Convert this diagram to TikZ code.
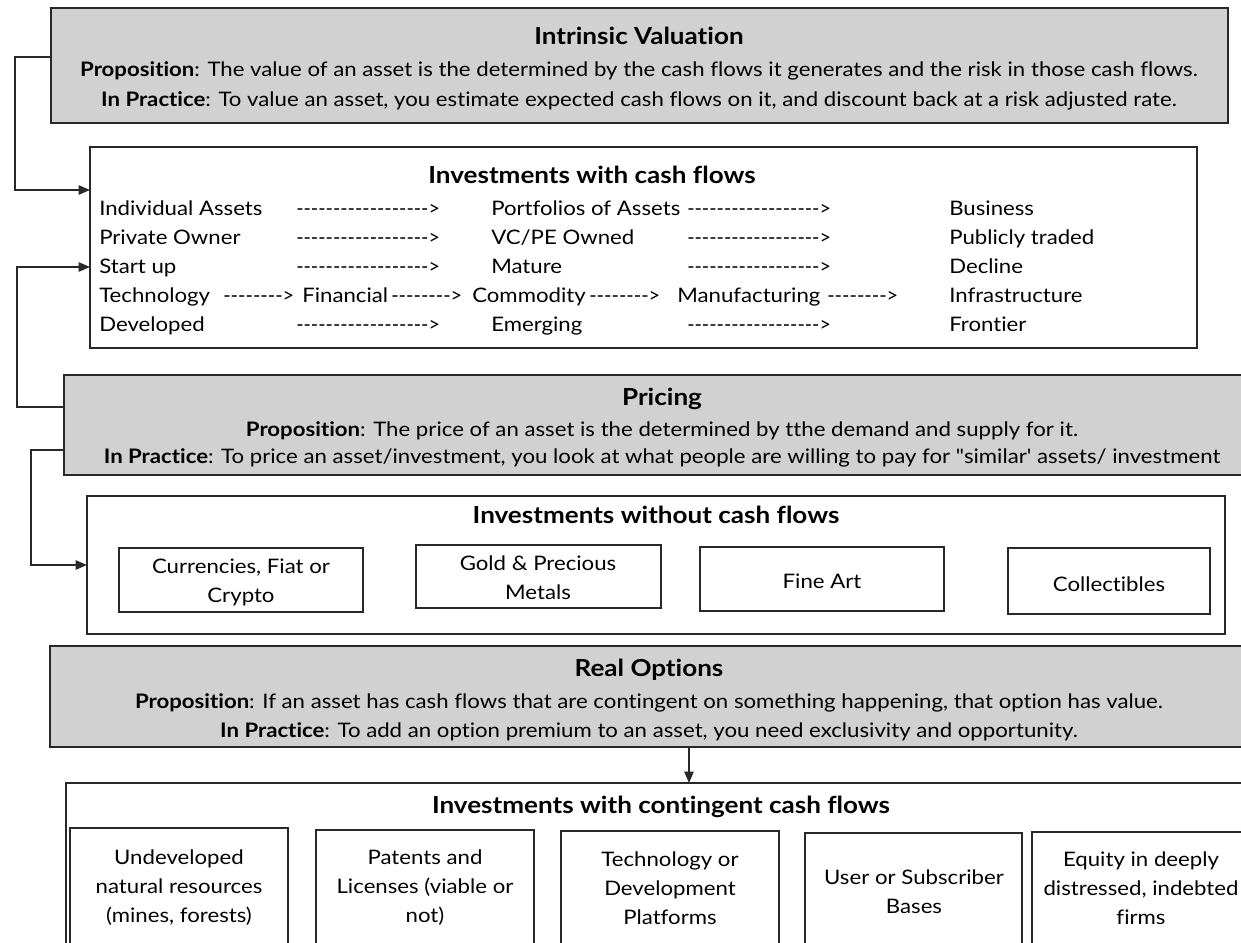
\documentclass[tikz,border=0pt]{standalone}
\usepackage{graphicx}
\usepackage{fontspec}
\setmainfont{Lato}[Ligatures={TeXOff,NoCommon}, FakeStretch=1.11]
\usetikzlibrary{arrows.meta,fit}
\definecolor{boxgray}{RGB}{209,209,209}
\definecolor{edge}{RGB}{40,40,40}
\newcommand{\dashL}{\scalebox{0.89}[1]{------------------>}}
\newcommand{\dashS}{\scalebox{0.9}[1]{-------->}}
\begin{document}
\begin{tikzpicture}[x=0.75pt,y=-0.75pt,
  box/.style={draw=edge, line width=1.3pt, inner sep=0pt, outer sep=0pt},
  graybox/.style={box, fill=boxgray},
  body/.style={font=\fontsize{15}{21.75}\selectfont, inner sep=0pt, align=center, anchor=base},
  row/.style={font=\fontsize{15}{21.75}\selectfont, inner sep=0pt, anchor=base west},
  ttl/.style={font=\fontsize{17.6}{20}\selectfont\bfseries, inner sep=0pt, anchor=base},
  cell/.style={font=\fontsize{15}{21.75}\selectfont, inner sep=0pt, align=center},
  conn/.style={draw=edge, line width=1.1pt},
  arr/.style={conn, -{Triangle[length=8.5pt,width=7pt]}},
]
\useasboundingbox (0,0) rectangle (1241,942);

% ---------- Intrinsic Valuation ----------
\node[graybox, fit={(51,8) (1228,123)}] (iv) {};
\node[ttl] (ivt) at (639,45) {Intrinsic Valuation};
\node[body] (ivp) at (639,77) {\textbf{Proposition}: The value of an asset is the determined by the cash flows it generates and the risk in those cash flows.};
\node[body] (ivi) at (639,106) {\textbf{In Practice}: To value an asset, you estimate expected cash flows on it, and discount back at a risk adjusted rate.};

% ---------- Investments with cash flows ----------
\node[box, fit={(90,147) (1197,348)}] (cf) {};
\node[ttl] (cft) at (592,183) {Investments with cash flows};
\node[row] (r1a) at (99,215) {Individual Assets};
\node[row] (r1b) at (296,215) {\dashL};
\node[row] (r1c) at (491,215) {Portfolios of Assets};
\node[row] (r1d) at (687,215) {\dashL};
\node[row] (r1e) at (949,215) {Business};
\node[row] (r2a) at (99,244) {Private Owner};
\node[row] (r2b) at (296,244) {\dashL};
\node[row] (r2c) at (491,244) {VC/PE Owned};
\node[row] (r2d) at (687,244) {\dashL};
\node[row] (r2e) at (949,244) {Publicly traded};
\node[row] (r3a) at (99,273) {Start up};
\node[row] (r3b) at (296,273) {\dashL};
\node[row] (r3c) at (491,273) {Mature};
\node[row] (r3d) at (687,273) {\dashL};
\node[row] (r3e) at (949,273) {Decline};
\node[row] (r4a) at (99,302) {Technology};
\node[row] (r4b) at (223,302) {\dashS};
\node[row] (r4c) at (302,302) {Financial};
\node[row] (r4d) at (391,302) {\dashS};
\node[row] (r4e) at (472,302) {Commodity};
\node[row] (r4f) at (589,302) {\dashS};
\node[row] (r4g) at (677,302) {Manufacturing};
\node[row] (r4h) at (827,302) {\dashS};
\node[row] (r4i) at (949,302) {Infrastructure};
\node[row] (r5a) at (99,331) {Developed};
\node[row] (r5b) at (296,331) {\dashL};
\node[row] (r5c) at (491,331) {Emerging};
\node[row] (r5d) at (687,331) {\dashL};
\node[row] (r5e) at (949,331) {Frontier};

% ---------- Pricing ----------
\node[graybox, fit={(64,375) (1262,475)}] (pr) {};
\node[ttl] (prt) at (662,405) {Pricing};
\node[body] (prp) at (662,436) {\textbf{Proposition}: The price of an asset is the determined by tthe demand and supply for it.};
\node[body] (pri) at (662,463) {\textbf{In Practice}: To price an asset/investment, you look at what people are willing to pay for "similar' assets/ investment};

% ---------- Investments without cash flows ----------
\node[box, fit={(87,496) (1225,634)}] (wo) {};
\node[ttl] (wot) at (656,523) {Investments without cash flows};
\node[box, fit={(119,548) (363,612)}] (w1) {};
\node[box, fit={(416,545) (661,608)}] (w2) {};
\node[box, fit={(700,547) (944,611)}] (w3) {};
\node[box, fit={(1008,548) (1210,614)}] (w4) {};
\node[cell] (w1t) at (241,582) {Currencies, Fiat or\\Crypto};
\node[cell] (w2t) at (538,578) {Gold \& Precious\\Metals};
\node[cell] (w3t) at (822,581) {Fine Art};
\node[cell] (w4t) at (1109,584) {Collectibles};

% ---------- Real Options ----------
\node[graybox, fit={(50,646) (1248,747)}] (ro) {};
\node[ttl] (rot) at (649,676) {Real Options};
\node[body] (rop) at (649,708) {\textbf{Proposition}: If an asset has cash flows that are contingent on something happening, that option has value.};
\node[body] (roi) at (649,737) {\textbf{In Practice}: To add an option premium to an asset, you need exclusivity and opportunity.};

% ---------- Investments with contingent cash flows ----------
\node[box, fit={(66,783) (1258,960)}] (co) {};
\node[ttl] (cot) at (661,813) {Investments with contingent cash flows};
\node[box, fit={(70,828) (288,958)}] (c1) {};
\node[box, fit={(316,830) (534,958)}] (c2) {};
\node[box, fit={(561,831) (779,958)}] (c3) {};
\node[box, fit={(805,833) (1022,958)}] (c4) {};
\node[box, fit={(1032,832) (1252,958)}] (c5) {};
\node[cell] (c1t) at (179,888) {Undeveloped\\natural resources\\(mines, forests)};
\node[cell] (c2t) at (425,888) {Patents and\\Licenses (viable or\\not)};
\node[cell] (c3t) at (670,888) {Technology or\\Development\\Platforms};
\node[cell] (c4t) at (914,892) {User or Subscriber\\Bases};
\node[cell] (c5t) at (1141,888) {Equity in deeply\\distressed, indebted\\firms};

% ---------- connectors ----------
\draw[arr] (iv.west |- 0,57) -| (15,190) -- (cf.west |- 0,190);
\draw[arr] (pr.west |- 0,407) -| (17,267) -- (cf.west |- 0,267);
\draw[arr] (pr.west |- 0,450) -| (31,565) -- (wo.west |- 0,565);
\draw[arr] (ro.south -| 689,0) -- (co.north -| 689,0);
\end{tikzpicture}
\end{document}
